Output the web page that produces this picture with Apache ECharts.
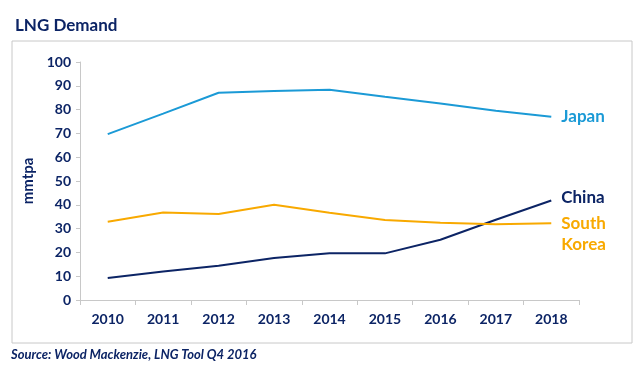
<!DOCTYPE html>
<html><head><meta charset="utf-8">
<script src="https://cdn.jsdelivr.net/npm/echarts@6/dist/echarts.min.js"></script>
<style>html,body{margin:0;padding:0;background:#fff}#c{width:640px;height:370px}</style>
</head><body><div id="c"></div>
<script>
const years = ['2010','2011','2012','2013','2014','2015','2016','2017','2018'];
const japan = [69.7, 78.3, 87.1, 87.8, 88.3, 85.4, 82.6, 79.5, 77.0];
const southKorea = [32.9, 36.8, 36.1, 40.0, 36.7, 33.6, 32.5, 31.8, 32.3];
const china = [9.2, 12.0, 14.4, 17.6, 19.6, 19.6, 25.3, 33.7, 41.8];
const yTicks = [0, 100, 10];

const navy = '#0c2465';
const font = 'Lato, "Open Sans", sans-serif';
const chart = echarts.init(document.getElementById('c'), null, {renderer: 'canvas'});
function lbl(color, text, extra) {
  return Object.assign({show: true, formatter: text, color: color, fontFamily: font, fontWeight: 'bold', fontSize: 17, distance: 10, lineHeight: 21}, extra || {});
}
chart.setOption({
  animation: false,
  title: {text: 'LNG Demand', left: 10, top: 12, textStyle: {color: navy, fontFamily: font, fontWeight: 'bold', fontSize: 17}},
  graphic: [
    {type: 'rect', shape: {x: 12, y: 41, width: 620, height: 302}, style: {fill: 'none', stroke: '#c8c8c8', lineWidth: 1}, z: -1},
    {type: 'text', left: 11, top: 348, style: {text: 'Source: Wood Mackenzie, LNG Tool Q4 2016', fill: navy, font: 'italic bold 13px ' + font}}
  ],
  grid: {left: 80, right: 61, top: 62, bottom: 70},
  xAxis: {
    type: 'category', data: years, boundaryGap: true,
    axisLine: {lineStyle: {color: '#c8c8c8', width: 1}},
    axisTick: {show: true, length: 5, lineStyle: {color: '#c8c8c8'}},
    axisLabel: {color: navy, fontFamily: font, fontWeight: 'bold', fontSize: 14, margin: 12}
  },
  yAxis: {
    type: 'value', min: yTicks[0], max: yTicks[1], interval: yTicks[2],
    name: 'mmtpa', nameLocation: 'middle', nameGap: 38, nameRotate: 90,
    nameTextStyle: {color: navy, fontFamily: font, fontWeight: 'bold', fontSize: 15},
    axisLine: {show: true, lineStyle: {color: '#c8c8c8', width: 1}},
    axisTick: {show: true, length: 4, lineStyle: {color: '#c8c8c8'}},
    splitLine: {show: false},
    axisLabel: {color: navy, fontFamily: font, fontWeight: 'bold', fontSize: 14, margin: 9}
  },
  series: [
    {name: 'Japan', type: 'line', data: japan, symbol: 'none', lineStyle: {color: '#1b9ad6', width: 2}, itemStyle: {color: '#1b9ad6'},
     endLabel: lbl('#1b9ad6', 'Japan')},
    {name: 'China', type: 'line', data: china, symbol: 'none', lineStyle: {color: navy, width: 2}, itemStyle: {color: navy},
     endLabel: lbl(navy, 'China', {offset: [0, -3]})},
    {name: 'South Korea', type: 'line', data: southKorea, symbol: 'none', lineStyle: {color: '#f8a900', width: 2}, itemStyle: {color: '#f8a900'},
     endLabel: lbl('#f8a900', 'South\nKorea', {verticalAlign: 'top', offset: [0, -10]})}
  ]
});
</script></body></html>
